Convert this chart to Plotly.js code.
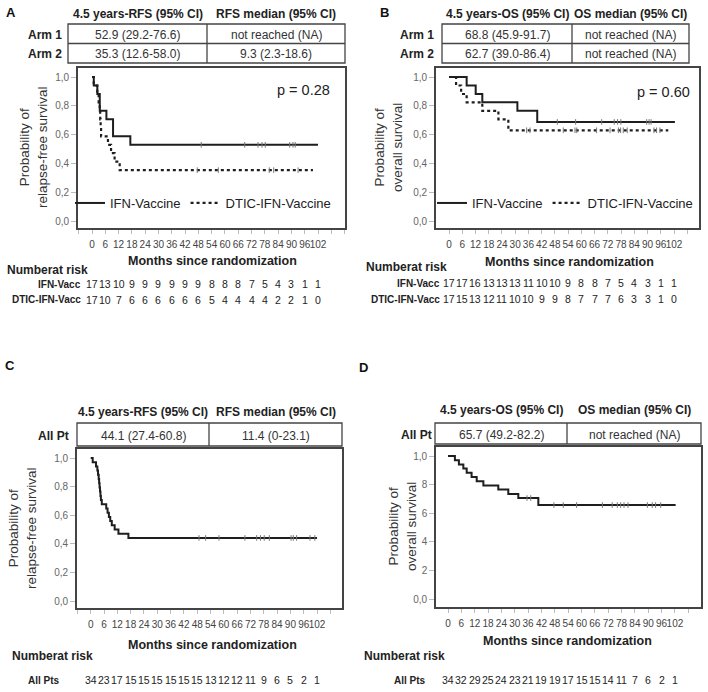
<!DOCTYPE html>
<html><head><meta charset="utf-8">
<script src="https://cdn.plot.ly/plotly-3.0.1.min.js"></script>
<style>html,body{margin:0;padding:0;background:#fff}#chart{width:708px;height:692px}</style>
</head><body><div id="chart"></div>
<script>
// ---------- DATA ----------
const tickMonths = [0,6,12,18,24,30,36,42,48,54,60,66,72,78,84,90,96,102];
const tickLabels = ['0','6','12','18','24','30','36','42','48','54','60','66','72','78','84','90','96','102'];
const yTickVals = [0,0.2,0.4,0.6,0.8,1.0];
const yLabelsABC = ['0,0','0,2','0,4','0,6','0,8','1,0'];
const yLabelsD = ['0,0','2','4','6','8','1,0'];

// Panel A (RFS by arm)
const A_ifn_t = [0,0.8,2.4,3.5,6.5,9.5,17.3,102];
const A_ifn_s = [1,0.941,0.882,0.765,0.706,0.588,0.529,0.529];
const A_ifn_cens = [49.3,68.9,74.9,76.7,78.2,89.2,90.7,91.7];
const A_dtic_t = [0,0.8,2.4,3.0,3.5,3.7,3.9,4.1,7.2,8.6,10.2,12.5,99.7];
const A_dtic_s = [1,0.941,0.882,0.824,0.765,0.706,0.647,0.588,0.529,0.471,0.412,0.353,0.353];
const A_dtic_cens = [47.5,57,80,82,93];
const A_risk_ifn = [17,13,10,9,9,9,9,9,9,8,8,8,7,5,4,3,1,1];
const A_risk_dtic = [17,10,7,6,6,6,6,6,6,5,4,4,4,4,2,2,1,0];

// Panel B (OS by arm)
const B_ifn_t = [0,8.0,12.1,15.1,31.0,40.0,102.4];
const B_ifn_s = [1,0.941,0.882,0.824,0.765,0.688,0.688];
const B_ifn_cens = [49.1,57.4,69.2,74.9,76.4,77.9,89.6,90.7,91.6];
const B_dtic_t = [0,3.2,5.5,8.0,15.1,22.4,26.9,99.4];
const B_dtic_s = [1,0.941,0.882,0.824,0.765,0.706,0.63,0.63];
const B_dtic_cens = [35.2,36.7,51.8,57.1,57.9,66.9,73,76.8,77.8,79,80.8,92.9,94.1,95.6];
const B_risk_ifn = [17,17,16,13,13,13,11,10,10,9,8,8,7,5,4,3,1,1];
const B_risk_dtic = [17,15,13,12,11,10,10,9,9,8,7,7,7,6,3,3,1,0];

// Panel C (RFS all patients)
const C_t = [0,0.9,2.4,3.0,3.3,3.6,3.8,4.0,4.2,4.4,4.6,5.0,7.0,7.6,8.2,8.8,9.5,10.8,12.5,17.0,102];
const C_s = [1,0.971,0.941,0.912,0.882,0.853,0.824,0.794,0.765,0.735,0.706,0.676,0.647,0.618,0.588,0.559,0.529,0.5,0.471,0.441,0.441];
const C_cens = [48.8,51.8,57.8,69.5,74.8,76.5,78.2,80.5,90.3,91.3,92.8,98.8,101];
const C_risk = [34,23,17,15,15,15,15,15,15,13,12,12,11,9,6,5,2,1];

// Panel D (OS all patients)
const D_t = [0,3.1,4.9,6.9,8.4,10.6,12.9,15.9,22.6,27.1,31.6,40.6,102.3];
const D_s = [1,0.971,0.941,0.912,0.882,0.853,0.824,0.794,0.765,0.735,0.706,0.657,0.657];
const D_cens = [35.5,37.2,47.6,51.8,57.8,69.4,73.8,76.1,77.6,79.1,80.9,89.6,91.8,93.3,95.6];
const D_risk = [34,32,29,25,24,23,21,19,19,17,15,15,14,11,7,6,2,1];

// Summary tables
const A_hdr = ['4.5 years-RFS (95% CI)','RFS median (95% CI)'];
const A_rows = ['Arm 1','Arm 2'];
const A_cells = [['52.9 (29.2-76.6)','not reached (NA)'],['35.3 (12.6-58.0)','9.3 (2.3-18.6)']];
const B_hdr = ['4.5 years-OS (95% CI)','OS median (95% CI)'];
const B_rows = ['Arm 1','Arm 2'];
const B_cells = [['68.8 (45.9-91.7)','not reached (NA)'],['62.7 (39.0-86.4)','not reached (NA)']];
const C_hdr = ['4.5 years-RFS (95% CI)','RFS median (95% CI)'];
const C_rows = ['All Pt'];
const C_cells = [['44.1 (27.4-60.8)','11.4 (0-23.1)']];
const D_hdr = ['4.5 years-OS (95% CI)','OS median (95% CI)'];
const D_rows = ['All Pt'];
const D_cells = [['65.7 (49.2-82.2)','not reached (NA)']];

const seriesNames = ['IFN-Vaccine','DTIC-IFN-Vaccine'];
const riskNamesAB = ['IFN-Vacc','DTIC-IFN-Vacc'];
const riskNameCD = 'All Pts';
const pValues = ['p = 0.28','p = 0.60'];
const yTitleRFS = 'Probability of<br>relapse-free survival';
const yTitleOS = 'Probability of<br>overall survival';
const xTitle = 'Months since randomization';

// ---------- LAYOUT HELPERS ----------
const W = 708, H = 692;
const FONT = 'Liberation Sans, Arial, sans-serif';
const px = v => v / W;
const py = v => 1 - v / H;
const annotations = [];
const shapes = [];
function txt(text, x, y, o) {
  o = o || {};
  annotations.push({text, x: px(x), y: py(y), xref: 'paper', yref: 'paper', showarrow: false,
    xanchor: o.xa || 'center', yanchor: 'middle', textangle: o.angle || 0,
    font: {family: FONT, size: o.size || 12, color: o.color || '#222', weight: o.bold ? 'bold' : 'normal'}});
}
function line(x0, y0, x1, y1) {
  shapes.push({type: 'line', xref: 'paper', yref: 'paper', x0: px(x0), y0: py(y0), x1: px(x1), y1: py(y1),
    line: {color: '#444', width: 1.3}});
}
function table(hdr, rows, cells, box, colX, hdrY, rowLabelX) {
  const [l, t, r, b] = box;
  shapes.push({type: 'rect', xref: 'paper', yref: 'paper', x0: px(l), y0: py(b), x1: px(r), y1: py(t),
    line: {color: '#444', width: 1.3}});
  line(colX, t, colX, b);
  const n = rows.length, rh = (b - t) / n;
  for (let i = 1; i < n; i++) line(l, t + rh * i, r, t + rh * i);
  txt(hdr[0], (l + colX) / 2, hdrY, {bold: true, size: 12});
  txt(hdr[1], (colX + r) / 2, hdrY, {bold: true, size: 12});
  rows.forEach((rw, i) => {
    const yc = t + rh * (i + 0.5) + 1;
    txt(rw, rowLabelX, yc, {bold: true, size: 12, xa: 'right'});
    txt(cells[i][0], (l + colX) / 2, yc, {size: 12, color: '#333'});
    txt(cells[i][1], (colX + r) / 2, yc, {size: 12, color: '#333'});
  });
}
function riskRow(vals, xref, y) {
  vals.forEach((v, i) => annotations.push({text: String(v), x: tickMonths[i], xref, y: py(y), yref: 'paper',
    showarrow: false, xanchor: 'center', yanchor: 'middle', font: {family: FONT, size: 10.5, color: '#222'}}));
}
function survAt(ts, ss, t) {
  let v = ss[0];
  for (let i = 0; i < ts.length; i++) if (ts[i] <= t) v = ss[i];
  return v;
}
function km(t, s, xa, ya, name, dash, legend, show) {
  return {type: 'scatter', mode: 'lines', x: t, y: s, xaxis: xa, yaxis: ya, name,
    line: {shape: 'hv', color: '#1e1e1e', width: dash ? 2.2 : 2, dash: dash || 'solid'},
    showlegend: !!show, legend: legend || 'legend', hoverinfo: 'skip'};
}
function cens(ct, t, s, xa, ya) {
  return {type: 'scatter', mode: 'markers', x: ct, y: ct.map(c => survAt(t, s, c)), xaxis: xa, yaxis: ya,
    marker: {symbol: 'line-ns', size: 4, color: '#777', line: {width: 1, color: '#777'}},
    showlegend: false, hoverinfo: 'skip'};
}
function xax(l, r, x0px, pxPerMonth, anchor) {
  const allTicks = [], allText = [];
  for (let m = -6; m <= 114; m += 6) {
    allTicks.push(m);
    const k = tickMonths.indexOf(m);
    allText.push(k >= 0 ? tickLabels[k] : '');
  }
  return {domain: [px(l), px(r)], range: [(l - x0px) / pxPerMonth, (r - x0px) / pxPerMonth], anchor,
    tickmode: 'array', tickvals: allTicks, ticktext: allText, tickangle: 0, ticks: 'outside', ticklen: 4,
    tickcolor: '#bbb', tickfont: {family: FONT, size: 10, color: '#444'}, ticklabelstandoff: 2,
    showline: true, mirror: true, linecolor: '#444', linewidth: 1.8, showgrid: false, zeroline: false,
    fixedrange: true};
}
function yax(top, bot, y1px, y0px, labels, anchor) {
  const ppu = y0px - y1px;
  return {domain: [py(bot), py(top)], range: [(y0px - bot) / ppu, (y0px - top) / ppu], anchor,
    tickmode: 'array', tickvals: yTickVals, ticktext: labels, ticks: 'outside', ticklen: 5, tickcolor: '#bbb',
    tickfont: {family: FONT, size: 10, color: '#666'}, showline: true, mirror: true, linecolor: '#444',
    linewidth: 1.8, showgrid: false, zeroline: false, fixedrange: true};
}

// ---------- TRACES ----------
const data = [
  km(A_ifn_t, A_ifn_s, 'x', 'y', seriesNames[0], null, 'legend', true),
  km(A_dtic_t, A_dtic_s, 'x', 'y', seriesNames[1], 'dot', 'legend', true),
  cens(A_ifn_cens, A_ifn_t, A_ifn_s, 'x', 'y'),
  cens(A_dtic_cens, A_dtic_t, A_dtic_s, 'x', 'y'),
  km(B_ifn_t, B_ifn_s, 'x2', 'y2', seriesNames[0], null, 'legend2', true),
  km(B_dtic_t, B_dtic_s, 'x2', 'y2', seriesNames[1], 'dot', 'legend2', true),
  cens(B_ifn_cens, B_ifn_t, B_ifn_s, 'x2', 'y2'),
  cens(B_dtic_cens, B_dtic_t, B_dtic_s, 'x2', 'y2'),
  km(C_t, C_s, 'x3', 'y3', 'All', null, 'legend', false),
  cens(C_cens, C_t, C_s, 'x3', 'y3'),
  km(D_t, D_s, 'x4', 'y4', 'All', null, 'legend', false),
  cens(D_cens, D_t, D_s, 'x4', 'y4')
];

// ---------- TEXT / TABLES ----------
txt('A', 11, 12, {bold: true, size: 13, color: '#111'});
txt('B', 384, 12, {bold: true, size: 13, color: '#111'});
txt('C', 10, 365, {bold: true, size: 13, color: '#111'});
txt('D', 363, 367, {bold: true, size: 13, color: '#111'});

table(A_hdr, A_rows, A_cells, [68, 24, 345, 63], 207, 14, 64);
table(B_hdr, B_rows, B_cells, [442, 24, 689, 63], 572, 14, 436);
table(C_hdr, C_rows, C_cells, [77, 423, 342, 446], 209, 412, 71);
table(D_hdr, D_rows, D_cells, [435, 423, 701, 444], 567, 410, 434);

txt(pValues[0], 303, 90, {size: 14.5});
txt(pValues[1], 663, 92, {size: 14.5});

txt(yTitleRFS, 33, 147, {angle: -90, size: 13.5, color: '#333'});
txt(yTitleOS, 388, 147, {angle: -90, size: 13.5, color: '#333'});
txt(yTitleRFS, 22, 528, {angle: -90, size: 13.5, color: '#333'});
txt(yTitleOS, 402, 527, {angle: -90, size: 13.5, color: '#333'});

txt(xTitle, 212, 261, {bold: true, size: 12.5});
txt(xTitle, 569, 262, {bold: true, size: 12.5});
txt(xTitle, 212, 645, {bold: true, size: 12.5});
txt(xTitle, 567, 641, {bold: true, size: 12.5});

txt('Numberat risk', 5, 270, {bold: true, size: 12, xa: 'left'});
txt('Numberat risk', 364, 267, {bold: true, size: 12, xa: 'left'});
txt('Numberat risk', 10, 656, {bold: true, size: 12, xa: 'left'});
txt('Numberat risk', 362, 656, {bold: true, size: 12, xa: 'left'});

txt(riskNamesAB[0], 83, 284, {bold: true, size: 10, xa: 'right'});
txt(riskNamesAB[1], 83, 300, {bold: true, size: 10, xa: 'right'});
txt(riskNamesAB[0], 442, 283, {bold: true, size: 10, xa: 'right'});
txt(riskNamesAB[1], 442, 299, {bold: true, size: 10, xa: 'right'});
txt(riskNameCD, 62, 680, {bold: true, size: 10, xa: 'right'});
txt(riskNameCD, 428, 680, {bold: true, size: 10, xa: 'right'});

riskRow(A_risk_ifn, 'x', 284);
riskRow(A_risk_dtic, 'x', 300);
riskRow(B_risk_ifn, 'x2', 283);
riskRow(B_risk_dtic, 'x2', 299);
riskRow(C_risk, 'x3', 680);
riskRow(D_risk, 'x4', 680);

// ---------- LAYOUT ----------
const legendBase = {orientation: 'h', xanchor: 'left', yanchor: 'middle', bgcolor: 'rgba(0,0,0,0)',
  borderwidth: 0, itemwidth: 30, font: {family: FONT, size: 13, color: '#222'}, itemclick: false, itemdoubleclick: false};

const layout = {
  width: W, height: H, margin: {l: 0, r: 0, t: 0, b: 0},
  paper_bgcolor: '#fff', plot_bgcolor: '#fff', showlegend: true,
  font: {family: FONT},
  xaxis: xax(78, 345, 92, 2.216, 'y'),
  yaxis: yax(68, 228, 77, 221, yLabelsABC, 'x'),
  xaxis2: xax(436, 699, 449, 2.206, 'y2'),
  yaxis2: yax(68, 228, 77, 221, yLabelsABC, 'x2'),
  xaxis3: xax(77, 342, 90.7, 2.219, 'y3'),
  yaxis3: yax(449, 608, 458, 601, yLabelsABC, 'x3'),
  xaxis4: xax(436, 701, 448, 2.225, 'y4'),
  yaxis4: yax(447, 607, 456, 599, yLabelsD, 'x4'),
  legend: Object.assign({}, legendBase, {x: px(70), y: py(203)}),
  legend2: Object.assign({}, legendBase, {x: px(432), y: py(203)}),
  annotations, shapes
};

Plotly.newPlot('chart', data, layout, {staticPlot: true, displayModeBar: false});
</script></body></html>
